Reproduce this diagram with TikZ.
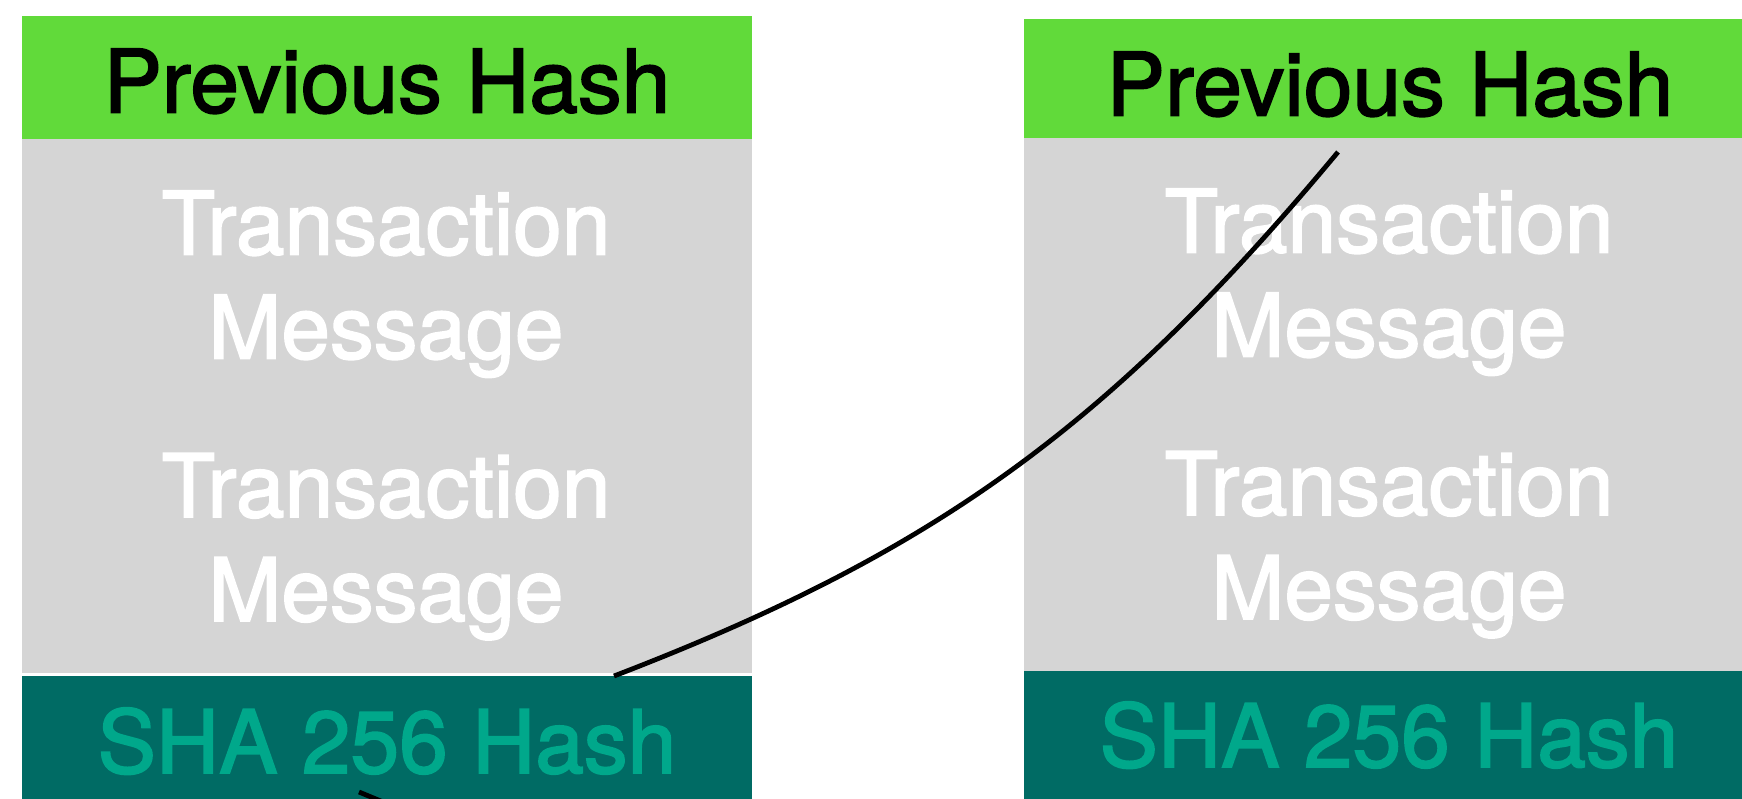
\documentclass[tikz,border=0pt]{standalone}
\usepackage{fontspec}
\setmainfont{TeX Gyre Heros}[FakeBold=2]
\begin{document}
\begin{tikzpicture}[x=1pt,y=-1pt,
  box/.style={draw=none,inner sep=0pt,outer sep=0pt,anchor=north west,minimum width=730pt},
  label/.style={inner sep=0pt,outer sep=0pt,anchor=base,font=\fontsize{87.5pt}{104pt}\selectfont},
  link/.style={draw=black,line width=4.8pt}]
\definecolor{hdrgreen}{HTML}{61DA3A}
\definecolor{bodygray}{HTML}{D5D5D5}
\definecolor{hashteal}{HTML}{006B64}
\definecolor{hashtext}{HTML}{00A88B}
\useasboundingbox (0,0) rectangle (1742,799);
\clip (0,0) rectangle (1742,799);
\fill[white] (0,0) rectangle (1742,799);

% left block
\node[box,fill=hdrgreen,minimum height=123pt] (prevL) at (22,16) {};
\node[box,fill=bodygray,minimum height=534pt] (bodyL) at (22,139) {};
\node[box,fill=hashteal,minimum height=140pt] (shaL) at (22,676) {};
\node[label,text=black] (prevLt) at (387,112.5) {Previous Hash};
\node[label,text=white] (txL1) at (386,254.5) {Transaction};
\node[label,text=white] (msgL1) at (386,358.5) {Message};
\node[label,text=white] (txL2) at (386,517) {Transaction};
\node[label,text=white] (msgL2) at (386,621) {Message};
\node[label,text=hashtext] (shaLt) at (387,773) {SHA 256 Hash};

% right block
\node[box,fill=hdrgreen,minimum height=119pt] (prevR) at (1024,19) {};
\node[box,fill=bodygray,minimum height=533pt] (bodyR) at (1024,138) {};
\node[box,fill=hashteal,minimum height=150pt] (shaR) at (1024,671) {};
\node[label,text=black] (prevRt) at (1390,115.5) {Previous Hash};
\node[label,text=white] (txR1) at (1389,252.5) {Transaction};
\node[label,text=white] (msgR1) at (1389,356.5) {Message};
\node[label,text=white] (txR2) at (1389,515) {Transaction};
\node[label,text=white] (msgR2) at (1389,619) {Message};
\node[label,text=hashtext] (shaRt) at (1389,767) {SHA 256 Hash};

% hash of the left block feeds the previous-hash field of the right block
\coordinate (outL) at ([xshift=227pt]shaL.north);
\coordinate (inR) at (1338,152);
\draw[link] (outL) .. controls (934,553) and (1108,428) .. (inR);

% link leaving the left block towards the next row
\coordinate (outL2) at (359,792);
\coordinate (down) at (400,809);
\draw[link] (outL2) -- (down);
\end{tikzpicture}
\end{document}
